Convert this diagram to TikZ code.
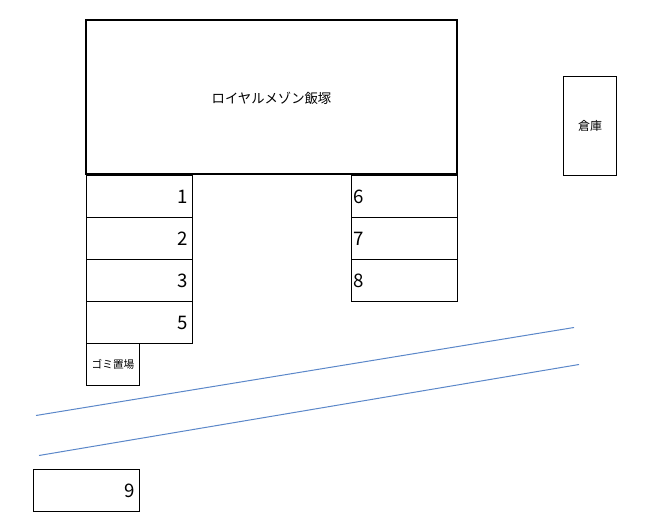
\documentclass[tikz,border=0pt]{standalone}
\usepackage{fontspec}
\setmainfont{Noto Sans CJK JP}
\usetikzlibrary{positioning}
\tikzset{
  plot/.style={draw, rectangle, inner sep=0pt, outer sep=0pt, line width=0.75pt},
  slotleft/.style={plot, font=\fontsize{14}{14}\selectfont, minimum height=31.5pt,
    text height=10pt, text depth=0pt, text width=73pt, inner xsep=3.25pt, align=right},
  slotright/.style={plot, font=\fontsize{14}{14}\selectfont, minimum height=31.5pt,
    text height=10pt, text depth=0pt, text width=76.5pt, inner xsep=1.5pt, align=left},
  road/.style={line width=0.75pt, color=roadblue}
}
\definecolor{roadblue}{HTML}{5B87C9}
\begin{document}
\begin{tikzpicture}[x=0.75pt, y=-0.75pt]
\useasboundingbox (0,0) rectangle (651,531);
%% main building
\node[plot, line width=1.5pt, minimum width=278.25pt, minimum height=115.5pt, anchor=north west,
  text height=9.8pt, text depth=0pt, font=\fontsize{10}{10}\selectfont] (mansion) at (86,20) {ロイヤルメゾン飯塚};
\node[plot, minimum width=39.75pt, minimum height=74.25pt, anchor=north west,
  font=\fontsize{9}{9}\selectfont] (storage) at (563.5,76.5) {倉庫};
%% left column
\node[slotleft, anchor=north west] (slot1) at (86.5,175.5) {1};
\node[slotleft, below=0pt of slot1] (slot2) {2};
\node[slotleft, below=0pt of slot2] (slot3) {3};
\node[slotleft, below=0pt of slot3] (slot5) {5};
\node[plot, minimum width=39.75pt, minimum height=31.5pt, anchor=north west,
  font=\fontsize{8}{8}\selectfont] (trash) at (slot5.south west) {ゴミ置場};
%% right column
\node[slotright, anchor=north west] (slot6) at (351.5,175.5) {6};
\node[slotright, below=0pt of slot6] (slot7) {7};
\node[slotright, below=0pt of slot7] (slot8) {8};
%% bottom left
\node[slotleft, anchor=north west] (slot9) at (33.5,469.5) {9};
%% road
\coordinate (roadAa) at (36,415.5);
\coordinate (roadAb) at (574,327.5);
\coordinate (roadBa) at (39,455.5);
\coordinate (roadBb) at (579,364.5);
\draw[road] (roadAa) -- (roadAb);
\draw[road] (roadBa) -- (roadBb);
\end{tikzpicture}
\end{document}
